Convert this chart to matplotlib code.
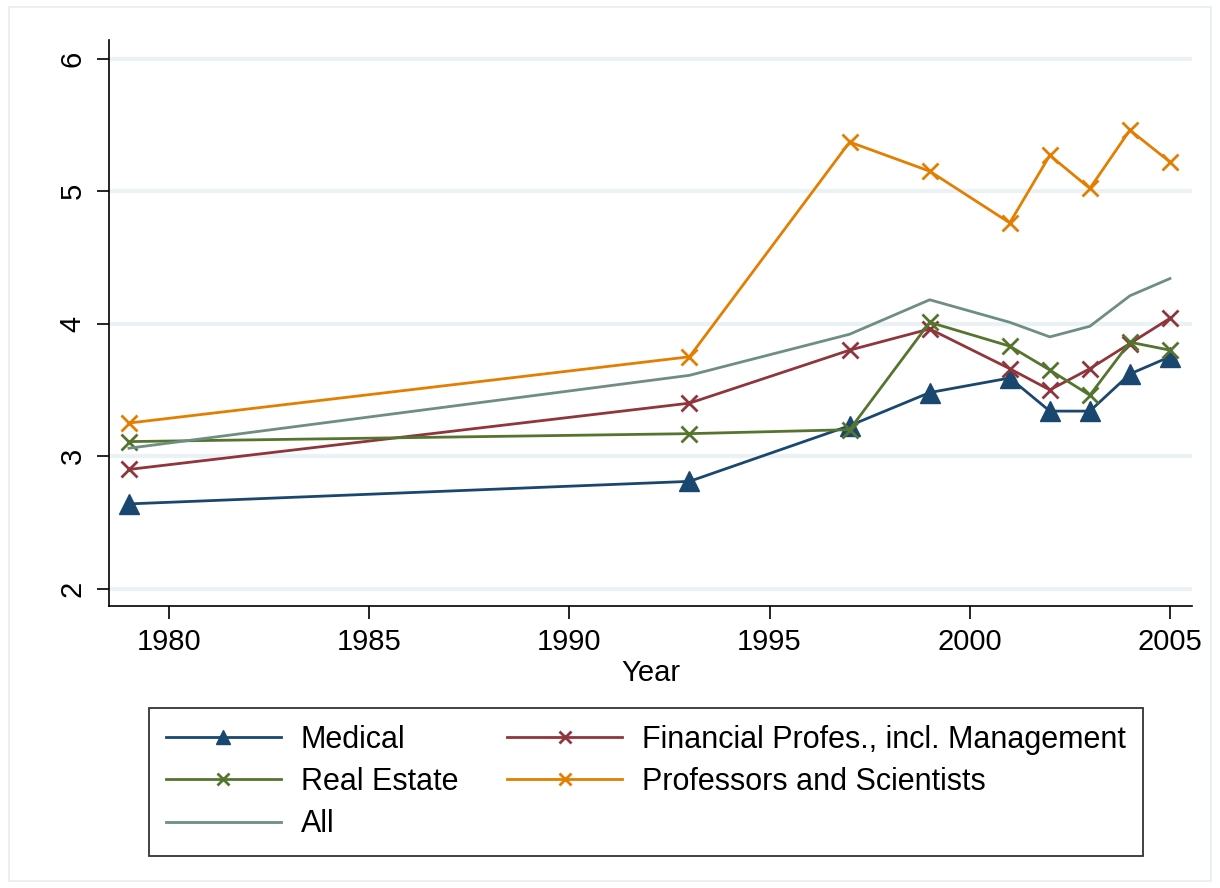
import matplotlib
matplotlib.use("Agg")
import matplotlib.pyplot as plt
from matplotlib.patches import Rectangle

plt.rcParams['font.family'] = ['Liberation Sans', 'DejaVu Sans']

# Dados
anos = [1979, 1993, 1997, 1999, 2001, 2002, 2003, 2004, 2005]
medical = [2.64, 2.81, 3.23, 3.48, 3.59, 3.34, 3.34, 3.62, 3.75]
financial = [2.90, 3.40, 3.80, 3.96, 3.66, 3.50, 3.66, 3.85, 4.04]
real_estate = [3.11, 3.17, 3.20, 4.01, 3.83, 3.65, 3.46, 3.86, 3.80]
professors = [3.25, 3.75, 5.37, 5.15, 4.76, 5.27, 5.02, 5.46, 5.22]
all_occ = [3.06, 3.61, 3.92, 4.18, 4.01, 3.90, 3.98, 4.21, 4.34]

x_ticks = [1980, 1985, 1990, 1995, 2000, 2005]
y_ticks = [2, 3, 4, 5, 6]

# Cores do esquema s2color
navy = '#1a476f'
maroon = '#90353b'
verde = '#55752f'
laranja = '#e37e00'
teal = '#6e8e84'

fig = plt.figure(figsize=(12.2, 8.88), dpi=100)
fig.patches.append(Rectangle((0.007, 0.008), 0.986, 0.984, transform=fig.transFigure,
                             fill=False, edgecolor='#e6eeee', linewidth=1.2))
ax = fig.add_axes([0.0893, 0.3176, 0.8877, 0.6374])

lw = 2.0
l_med, = ax.plot(anos, medical, color=navy, linewidth=lw, marker='^', markersize=14,
                 label='Medical')
l_fin, = ax.plot(anos, financial, color=maroon, linewidth=lw, marker='x', markersize=12,
                 markeredgewidth=2, label='Financial Profes., incl. Management')
l_re, = ax.plot(anos, real_estate, color=verde, linewidth=lw, marker='x', markersize=12,
                markeredgewidth=2, label='Real Estate')
l_prof, = ax.plot(anos, professors, color=laranja, linewidth=lw, marker='x', markersize=12,
                  markeredgewidth=2, label='Professors and Scientists')
l_all, = ax.plot(anos, all_occ, color=teal, linewidth=lw, label='All')

ax.set_xlim(1978.5, 2005.55)
ax.set_ylim(1.87, 6.14)
ax.set_xticks(x_ticks)
ax.set_yticks(y_ticks)
ax.set_yticklabels([str(v) for v in y_ticks], rotation=90, va='center')
ax.tick_params(axis='both', labelsize=21, length=9, width=1.2, direction='out', pad=7)
ax.set_xlabel('Year', fontsize=21, labelpad=2)

for y in y_ticks:
    ax.axhline(y, color='#eaf2f3', linewidth=3, zorder=0)

for s in ['top', 'right']:
    ax.spines[s].set_visible(False)
for s in ['left', 'bottom']:
    ax.spines[s].set_linewidth(1.2)

# Ordem por colunas para obter as linhas do legendário
handles = [l_med, l_re, l_all, l_fin, l_prof]
fig.legend(handles, [h.get_label() for h in handles], ncol=2, loc='upper left',
           bbox_to_anchor=(0.122, 0.2027), fontsize=22, frameon=True, fancybox=False,
           edgecolor='black', handlelength=3.77, handletextpad=0.65, columnspacing=1.6,
           labelspacing=0.4, markerscale=0.7, borderpad=0.55, borderaxespad=0)
leg = fig.legends[0]
leg.get_frame().set_linewidth(1.3)

plt.savefig('out.png', dpi=100)
